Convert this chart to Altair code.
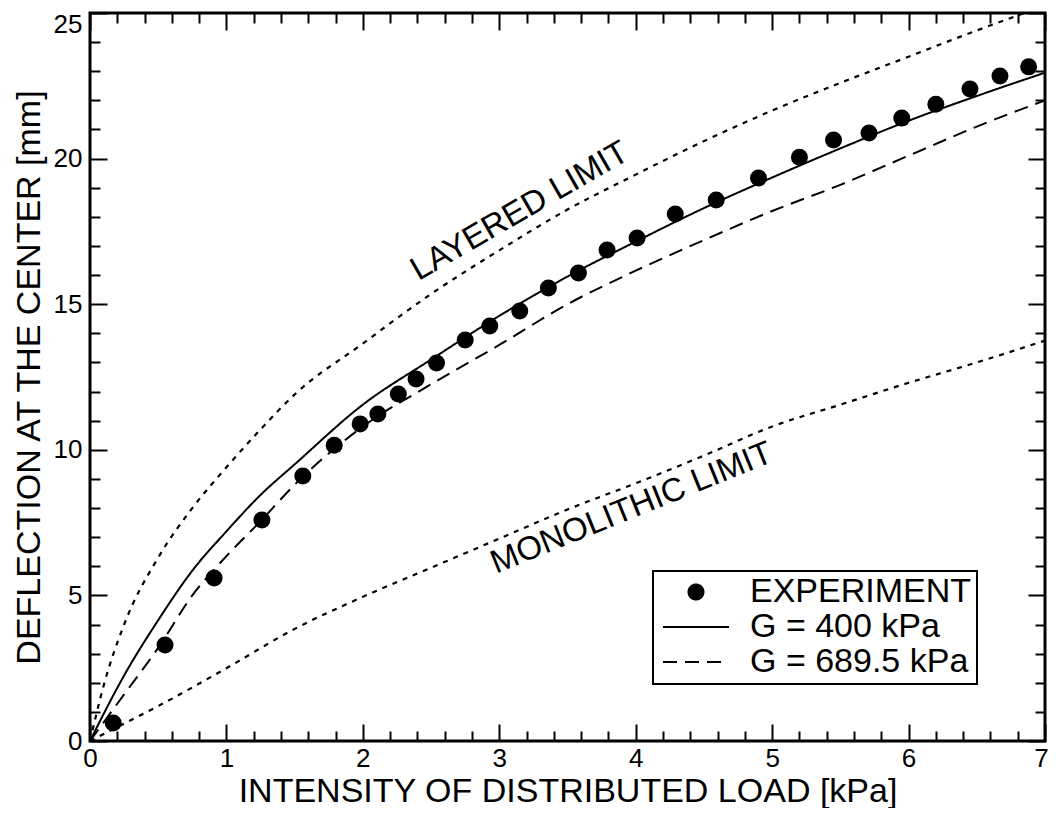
import altair as alt
import pandas as pd

FONT = "Liberation Sans"

# ---------------- data ----------------
exp_load = [0.17, 0.55, 0.91, 1.26, 1.56, 1.79, 1.98, 2.11, 2.26, 2.39, 2.54, 2.75,
            2.93, 3.15, 3.36, 3.58, 3.79, 4.01, 4.29, 4.59, 4.90, 5.20, 5.45, 5.71,
            5.95, 6.20, 6.45, 6.67, 6.88]
exp_defl = [0.62, 3.30, 5.60, 7.59, 9.10, 10.16, 10.89, 11.23, 11.92, 12.43, 12.98, 13.77,
            14.25, 14.77, 15.56, 16.07, 16.86, 17.27, 18.10, 18.58, 19.33, 20.05, 20.64, 20.88,
            21.39, 21.87, 22.39, 22.84, 23.15]

model_load = [0, 0.25, 0.5, 0.75, 1.0, 1.25, 1.5, 2.0, 2.5, 3.0, 3.5, 4.0, 4.5, 5.0,
              5.5, 6.0, 6.5, 7.0]
g400_defl = [0, 2.25, 4.15, 5.85, 7.2, 8.45, 9.5, 11.55, 13.1, 14.6, 15.95, 17.15, 18.3,
             19.35, 20.35, 21.3, 22.15, 22.95]
g689_defl = [0, 1.6, 3.2, 5.0, 6.35, 7.55, 8.8, 10.8, 12.25, 13.6, 15.0, 16.15, 17.2,
             18.2, 19.1, 20.1, 21.1, 22.0]

layered_load = [0, 0.1, 0.25, 0.5, 0.75, 1.0, 1.25, 1.5, 2.0, 2.5, 3.0, 3.5, 4.0, 4.5,
                5.0, 5.5, 6.0, 6.5, 7.0]
layered_defl = [0, 1.9, 4.0, 6.3, 8.0, 9.4, 10.7, 11.9, 13.65, 15.35, 16.85, 18.25, 19.45,
                20.6, 21.65, 22.6, 23.5, 24.4, 25.25]

mono_load = [0, 0.25, 0.5, 1.0, 1.5, 2.0, 2.5, 3.0, 3.5, 4.0, 4.5, 5.0, 5.5, 6.0, 6.5, 7.0]
mono_defl = [0, 0.6, 1.2, 2.5, 3.85, 4.95, 5.95, 6.95, 7.95, 8.85, 9.8, 10.8, 11.55, 12.3,
             13.0, 13.75]

series_names = ["EXPERIMENT", "G = 400 kPa", "G = 689.5 kPa"]

ann_text = ["LAYERED LIMIT", "MONOLITHIC LIMIT"]
ann_x = [3.15, 3.97]
ann_y = [18.2, 8.0]
ann_angle = [330, 338]

x_ticks = [0, 0.2, 0.4, 0.6, 0.8, 1, 1.2, 1.4, 1.6, 1.8, 2, 2.2, 2.4, 2.6, 2.8, 3, 3.2,
           3.4, 3.6, 3.8, 4, 4.2, 4.4, 4.6, 4.8, 5, 5.2, 5.4, 5.6, 5.8, 6, 6.2, 6.4, 6.6,
           6.8, 7]
y_ticks = list(range(0, 26))

x_title = "INTENSITY OF DISTRIBUTED LOAD [kPa]"
y_title = "DEFLECTION AT THE CENTER [mm]"

# ---------------- tables ----------------
exp_df = pd.DataFrame({"load": exp_load, "defl": exp_defl, "series": series_names[0]})
model_df = pd.concat([
    pd.DataFrame({"load": model_load, "defl": g400_defl, "series": series_names[1]}),
    pd.DataFrame({"load": model_load, "defl": g689_defl, "series": series_names[2]}),
])
limit_df = pd.concat([
    pd.DataFrame({"load": layered_load, "defl": layered_defl, "curve": "layered"}),
    pd.DataFrame({"load": mono_load, "defl": mono_defl, "curve": "monolithic"}),
])
ann_df = pd.DataFrame({"label": ann_text, "x": ann_x, "y": ann_y, "angle": ann_angle})

XS = alt.Scale(domain=[0, 7], nice=False, zero=False)
YS = alt.Scale(domain=[0, 25], nice=False, zero=False)

x_tick_size = {"expr": "abs(datum.value - round(datum.value)) < 0.001 ? -17 : -10"}
y_tick_size = {"expr": "datum.value % 5 === 0 ? -17 : -10"}

tick_style = dict(domain=False, grid=False, tickColor="black", tickWidth=2,
                  labelOverlap=False, labelFlush=False, tickCount=200)

x_bottom = alt.Axis(orient="bottom", values=x_ticks, tickSize=x_tick_size,
                    labelExpr="abs(datum.value - round(datum.value)) < 0.001 ? toString(round(datum.value)) : ''",
                    labelOffset={"condition": {"test": "datum.value === 7", "value": -4},
                                 "value": 0},
                    labelPadding=21, labelFont=FONT, labelFontSize=26, labelColor="black",
                    labelBaseline="top", labelAlign="center",
                    title=x_title, titleFont=FONT, titleFontSize=34, titleFontWeight="normal",
                    titleColor="black", titleX=477.5, titleY=60, titleBaseline="alphabetic",
                    titleAlign="center", **tick_style)
y_left = alt.Axis(orient="left", values=y_ticks, tickSize=y_tick_size,
                  labelExpr="datum.value % 5 === 0 ? toString(datum.value) : ''",
                  labelOffset={"condition": {"test": "datum.value === 25", "value": 11},
                               "value": 0},
                  labelPadding=25, labelFont=FONT, labelFontSize=26, labelColor="black",
                  title=y_title, titleFont=FONT, titleFontSize=34, titleFontWeight="normal",
                  titleColor="black", titleX=-51, titleY=364, titleAngle=270,
                  titleBaseline="alphabetic", titleAlign="center", **tick_style)
x_top = alt.Axis(orient="top", values=x_ticks, tickSize=x_tick_size, labels=False,
                 **tick_style)
y_right = alt.Axis(orient="right", values=y_ticks, tickSize=y_tick_size, labels=False,
                   **tick_style)

limits = alt.Chart(limit_df).mark_line(
    color="black", strokeWidth=2.2, strokeDash=[5, 6], clip=True, interpolate="monotone"
).encode(
    x=alt.X("load:Q", scale=XS, axis=x_top, title=None),
    y=alt.Y("defl:Q", scale=YS, axis=y_right, title=None),
    detail="curve:N",
)

legend = alt.Legend(
    title=None,
    symbolType={"expr": "datum.value === 'EXPERIMENT' ? 'circle' : 'stroke'"},
    symbolSize={"expr": "datum.value === 'EXPERIMENT' ? 225 : 4356"},
    symbolFillColor={"expr": "datum.value === 'EXPERIMENT' ? 'black' : 'transparent'"},
)

models = alt.Chart(model_df).mark_line(
    color="black", strokeWidth=2, interpolate="monotone"
).encode(
    x=alt.X("load:Q", scale=XS, axis=None),
    y=alt.Y("defl:Q", scale=YS, axis=None),
    strokeDash=alt.StrokeDash("series:N", legend=legend,
                              scale=alt.Scale(domain=series_names,
                                              range=[[1, 0], [1, 0], [14, 8]])),
)

points = alt.Chart(exp_df).mark_circle(size=289, color="black", opacity=1).encode(
    x=alt.X("load:Q", scale=XS, axis=x_bottom),
    y=alt.Y("defl:Q", scale=YS, axis=y_left),
)

ann = alt.Chart(ann_df).mark_text(
    font=FONT, fontSize=33, color="black", align="center", baseline="middle"
).encode(
    x=alt.X("x:Q", scale=XS, axis=None),
    y=alt.Y("y:Q", scale=YS, axis=None),
    text="label:N",
    angle=alt.Angle("angle:Q", scale=None),
)

chart = alt.layer(limits, models, points, ann).resolve_axis(
    x="independent", y="independent"
).properties(
    width=955, height=728,
    padding={"left": 82, "top": 5, "right": 3, "bottom": 67},
    autosize=alt.AutoSizeParams(type="none"),
    background="white",
).configure_view(
    stroke="black", strokeWidth=3
).configure_legend(
    orient="none", legendX=563, legendY=558,
    labelFont=FONT, labelFontSize=34, labelColor="black", labelLimit=400,
    labelOffset=20, padding=5, rowPadding=1, clipHeight=32,
    strokeColor="black", strokeWidth=2, fillColor="white",
    symbolStrokeColor="black", symbolStrokeWidth=2,
    symbolOffset=4,
)

chart.save("out.html", embed_options={"renderer": "svg", "actions": False})
